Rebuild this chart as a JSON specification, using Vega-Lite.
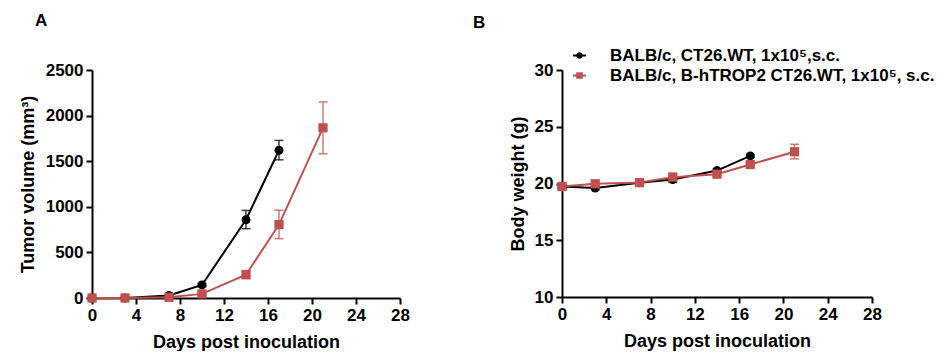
{
  "$schema": "https://vega.github.io/schema/vega-lite/v6.json",
  "background": "white",
  "padding": {"left": 19, "top": 12, "right": 0, "bottom": 0},
  "config": {
    "font": "Liberation Sans",
    "view": {"stroke": null},
    "concat": {"spacing": 63},
    "axis": {
      "grid": false,
      "domainColor": "black",
      "domainWidth": 2,
      "tickColor": "black",
      "tickWidth": 2,
      "tickSize": 6,
      "labelFont": "Liberation Sans",
      "labelFontWeight": "bold",
      "labelFontSize": 17,
      "labelColor": "black",
      "labelPadding": 3,
      "labelFlush": false,
      "labelOverlap": false,
      "titleFont": "Liberation Sans",
      "titleFontWeight": "bold",
      "titleFontSize": 18,
      "titleColor": "black"
    },
    "legend": {
      "title": null,
      "orient": "none",
      "legendX": 9,
      "legendY": -23,
      "labelFont": "Liberation Sans",
      "labelFontSize": 17,
      "labelFontWeight": "bold",
      "labelColor": "black",
      "labelLimit": 600,
      "labelOffset": 22,
      "rowPadding": 2,
      "symbolSize": 169,
      "symbolOpacity": 1,
      "symbolStrokeWidth": 0
    },
    "title": {"font": "Liberation Sans", "fontSize": 17, "fontWeight": "bold", "color": "black", "anchor": "start", "frame": "group"}
  },
  "resolve": {"scale": {"color": "independent", "shape": "independent", "size": "independent", "y": "independent"}, "legend": {"color": "independent", "shape": "independent"}},
  "datasets": {
    "tumor": [
      {"group": "BALB/c, CT26.WT, 1x10⁵,s.c.", "day": 0, "mean": 0, "lo": null, "hi": null},
      {"group": "BALB/c, CT26.WT, 1x10⁵,s.c.", "day": 3, "mean": 0, "lo": null, "hi": null},
      {"group": "BALB/c, CT26.WT, 1x10⁵,s.c.", "day": 7, "mean": 28, "lo": null, "hi": null},
      {"group": "BALB/c, CT26.WT, 1x10⁵,s.c.", "day": 10, "mean": 143, "lo": 125, "hi": 160},
      {"group": "BALB/c, CT26.WT, 1x10⁵,s.c.", "day": 14, "mean": 858, "lo": 760, "hi": 960},
      {"group": "BALB/c, CT26.WT, 1x10⁵,s.c.", "day": 17, "mean": 1620, "lo": 1515, "hi": 1728},
      {"group": "BALB/c, B-hTROP2 CT26.WT, 1x10⁵, s.c.", "day": 0, "mean": 0, "lo": null, "hi": null},
      {"group": "BALB/c, B-hTROP2 CT26.WT, 1x10⁵, s.c.", "day": 3, "mean": 0, "lo": null, "hi": null},
      {"group": "BALB/c, B-hTROP2 CT26.WT, 1x10⁵, s.c.", "day": 7, "mean": 7, "lo": null, "hi": null},
      {"group": "BALB/c, B-hTROP2 CT26.WT, 1x10⁵, s.c.", "day": 10, "mean": 45, "lo": 30, "hi": 60},
      {"group": "BALB/c, B-hTROP2 CT26.WT, 1x10⁵, s.c.", "day": 14, "mean": 255, "lo": 215, "hi": 300},
      {"group": "BALB/c, B-hTROP2 CT26.WT, 1x10⁵, s.c.", "day": 17, "mean": 805, "lo": 651, "hi": 963},
      {"group": "BALB/c, B-hTROP2 CT26.WT, 1x10⁵, s.c.", "day": 21, "mean": 1866, "lo": 1581, "hi": 2150}
    ],
    "weight": [
      {"group": "BALB/c, CT26.WT, 1x10⁵,s.c.", "day": 0, "mean": 19.74, "lo": 19.6, "hi": 19.9},
      {"group": "BALB/c, CT26.WT, 1x10⁵,s.c.", "day": 3, "mean": 19.6, "lo": 19.45, "hi": 19.75},
      {"group": "BALB/c, CT26.WT, 1x10⁵,s.c.", "day": 7, "mean": 20.06, "lo": 19.9, "hi": 20.2},
      {"group": "BALB/c, CT26.WT, 1x10⁵,s.c.", "day": 10, "mean": 20.35, "lo": 20.1, "hi": 20.6},
      {"group": "BALB/c, CT26.WT, 1x10⁵,s.c.", "day": 14, "mean": 21.14, "lo": 21.0, "hi": 21.3},
      {"group": "BALB/c, CT26.WT, 1x10⁵,s.c.", "day": 17, "mean": 22.43, "lo": 22.3, "hi": 22.55},
      {"group": "BALB/c, B-hTROP2 CT26.WT, 1x10⁵, s.c.", "day": 0, "mean": 19.74, "lo": 19.55, "hi": 19.95},
      {"group": "BALB/c, B-hTROP2 CT26.WT, 1x10⁵, s.c.", "day": 3, "mean": 19.97, "lo": 19.65, "hi": 20.3},
      {"group": "BALB/c, B-hTROP2 CT26.WT, 1x10⁵, s.c.", "day": 7, "mean": 20.08, "lo": 19.9, "hi": 20.25},
      {"group": "BALB/c, B-hTROP2 CT26.WT, 1x10⁵, s.c.", "day": 10, "mean": 20.56, "lo": 20.2, "hi": 20.9},
      {"group": "BALB/c, B-hTROP2 CT26.WT, 1x10⁵, s.c.", "day": 14, "mean": 20.82, "lo": 20.65, "hi": 21.0},
      {"group": "BALB/c, B-hTROP2 CT26.WT, 1x10⁵, s.c.", "day": 17, "mean": 21.67, "lo": 21.5, "hi": 21.85},
      {"group": "BALB/c, B-hTROP2 CT26.WT, 1x10⁵, s.c.", "day": 21, "mean": 22.8, "lo": 22.17, "hi": 23.46}
    ]
  },
  "hconcat": [
    {
      "width": 308,
      "height": 228,
      "title": {"text": "A", "dx": -57, "offset": 31},
      "data": {"name": "tumor"},
      "encoding": {
        "x": {"field": "day", "type": "quantitative", "scale": {"domain": [0, 28], "nice": false}, "axis": {"values": [0, 4, 8, 12, 16, 20, 24, 28], "title": "Days post inoculation", "titlePadding": 10}},
        "color": {"field": "group", "type": "nominal", "scale": {"domain": ["BALB/c, CT26.WT, 1x10⁵,s.c.", "BALB/c, B-hTROP2 CT26.WT, 1x10⁵, s.c."], "range": ["black", "#c0504d"]}, "legend": null}
      },
      "layer": [
        {
          "transform": [{"filter": "datum.lo != null"}],
          "mark": {"type": "rule", "strokeWidth": 1.5, "opacity": 0.75, "clip": false},
          "encoding": {
            "y": {"field": "lo", "type": "quantitative", "scale": {"domain": [0, 2500], "nice": false}, "axis": {"values": [0, 500, 1000, 1500, 2000, 2500], "format": "d", "title": "Tumor volume (mm³)", "titlePadding": 8}},
            "y2": {"field": "hi"}
          }
        },
        {
          "transform": [{"filter": "datum.lo != null"}],
          "mark": {"type": "tick", "orient": "horizontal", "size": 9, "thickness": 1.5, "opacity": 0.75},
          "encoding": {"y": {"field": "lo", "type": "quantitative", "scale": {"domain": [0, 2500], "nice": false}, "axis": {"values": [0, 500, 1000, 1500, 2000, 2500], "format": "d", "title": "Tumor volume (mm³)", "titlePadding": 8}}}
        },
        {
          "transform": [{"filter": "datum.lo != null"}],
          "mark": {"type": "tick", "orient": "horizontal", "size": 9, "thickness": 1.5, "opacity": 0.75},
          "encoding": {"y": {"field": "hi", "type": "quantitative", "scale": {"domain": [0, 2500], "nice": false}, "axis": {"values": [0, 500, 1000, 1500, 2000, 2500], "format": "d", "title": "Tumor volume (mm³)", "titlePadding": 8}}}
        },
        {
          "mark": {"type": "line", "strokeWidth": 2, "clip": false},
          "encoding": {
            "y": {"field": "mean", "type": "quantitative", "scale": {"domain": [0, 2500], "nice": false}, "axis": {"values": [0, 500, 1000, 1500, 2000, 2500], "format": "d", "title": "Tumor volume (mm³)", "titlePadding": 8}}
          }
        },
        {
          "mark": {"type": "point", "filled": true, "opacity": 1, "clip": false},
          "encoding": {
            "y": {"field": "mean", "type": "quantitative", "scale": {"domain": [0, 2500], "nice": false}, "axis": {"values": [0, 500, 1000, 1500, 2000, 2500], "format": "d", "title": "Tumor volume (mm³)", "titlePadding": 8}},
            "shape": {"field": "group", "type": "nominal", "scale": {"domain": ["BALB/c, CT26.WT, 1x10⁵,s.c.", "BALB/c, B-hTROP2 CT26.WT, 1x10⁵, s.c."], "range": ["circle", "square"]}, "legend": null},
            "size": {"field": "group", "type": "nominal", "scale": {"domain": ["BALB/c, CT26.WT, 1x10⁵,s.c.", "BALB/c, B-hTROP2 CT26.WT, 1x10⁵, s.c."], "range": [80, 85]}, "legend": null}
          }
        }
      ]
    },
    {
      "width": 310,
      "height": 227,
      "title": {"text": "B", "dx": -89, "offset": 15},
      "data": {"name": "weight"},
      "encoding": {
        "x": {"field": "day", "type": "quantitative", "scale": {"domain": [0, 28], "nice": false}, "axis": {"values": [0, 4, 8, 12, 16, 20, 24, 28], "title": "Days post inoculation", "titlePadding": 10}},
        "color": {
          "field": "group", "type": "nominal",
          "scale": {"domain": ["BALB/c, CT26.WT, 1x10⁵,s.c.", "BALB/c, B-hTROP2 CT26.WT, 1x10⁵, s.c."], "range": ["black", "#c0504d"]},
          "legend": {"title": null}
        }
      },
      "layer": [
        {
          "transform": [{"filter": "datum.lo != null"}],
          "mark": {"type": "rule", "strokeWidth": 1.5, "opacity": 0.75, "clip": false},
          "encoding": {
            "y": {"field": "lo", "type": "quantitative", "scale": {"domain": [10, 30], "nice": false}, "axis": {"values": [10, 15, 20, 25, 30], "title": "Body weight (g)", "titlePadding": 7}},
            "y2": {"field": "hi"}
          }
        },
        {
          "transform": [{"filter": "datum.lo != null"}],
          "mark": {"type": "tick", "orient": "horizontal", "size": 9, "thickness": 1.5, "opacity": 0.75},
          "encoding": {"y": {"field": "lo", "type": "quantitative", "scale": {"domain": [10, 30], "nice": false}, "axis": {"values": [10, 15, 20, 25, 30], "title": "Body weight (g)", "titlePadding": 7}}}
        },
        {
          "transform": [{"filter": "datum.lo != null"}],
          "mark": {"type": "tick", "orient": "horizontal", "size": 9, "thickness": 1.5, "opacity": 0.75},
          "encoding": {"y": {"field": "hi", "type": "quantitative", "scale": {"domain": [10, 30], "nice": false}, "axis": {"values": [10, 15, 20, 25, 30], "title": "Body weight (g)", "titlePadding": 7}}}
        },
        {
          "mark": {"type": "line", "strokeWidth": 2, "clip": false},
          "encoding": {
            "y": {"field": "mean", "type": "quantitative", "scale": {"domain": [10, 30], "nice": false}, "axis": {"values": [10, 15, 20, 25, 30], "title": "Body weight (g)", "titlePadding": 7}}
          }
        },
        {
          "transform": [{"filter": "indexof(datum.group, 'B-hTROP2') < 0"}],
          "mark": {"type": "point", "filled": true, "opacity": 1, "shape": "circle", "size": 80, "clip": false},
          "encoding": {
            "y": {"field": "mean", "type": "quantitative", "scale": {"domain": [10, 30], "nice": false}, "axis": {"values": [10, 15, 20, 25, 30], "title": "Body weight (g)", "titlePadding": 7}}
          }
        },
        {
          "transform": [{"filter": "indexof(datum.group, 'B-hTROP2') >= 0"}],
          "mark": {"type": "point", "filled": true, "opacity": 1, "shape": "square", "size": 85, "clip": false},
          "encoding": {
            "y": {"field": "mean", "type": "quantitative", "scale": {"domain": [10, 30], "nice": false}, "axis": {"values": [10, 15, 20, 25, 30], "title": "Body weight (g)", "titlePadding": 7}}
          }
        },
        {
          "mark": {"type": "point", "filled": true, "opacity": 0, "clip": false},
          "encoding": {
            "y": {"field": "mean", "type": "quantitative", "scale": {"domain": [10, 30], "nice": false}, "axis": {"values": [10, 15, 20, 25, 30], "title": "Body weight (g)", "titlePadding": 7}},
            "shape": {
              "field": "group", "type": "nominal",
              "scale": {"domain": ["BALB/c, CT26.WT, 1x10⁵,s.c.", "BALB/c, B-hTROP2 CT26.WT, 1x10⁵, s.c."], "range": ["M-1,-0.15H-0.47V0.15H-1Z M0.47,-0.15H1V0.15H0.47Z M-0.5,0A0.5,0.5 0 1,1 0.5,0A0.5,0.5 0 1,1 -0.5,0Z", "M-1,-0.15H-0.48V0.15H-1Z M0.48,-0.15H1V0.15H0.48Z M-0.5,-0.5H0.5V0.5H-0.5Z"]},
              "legend": {"title": null}
            }
          }
        }
      ]
    }
  ]
}
